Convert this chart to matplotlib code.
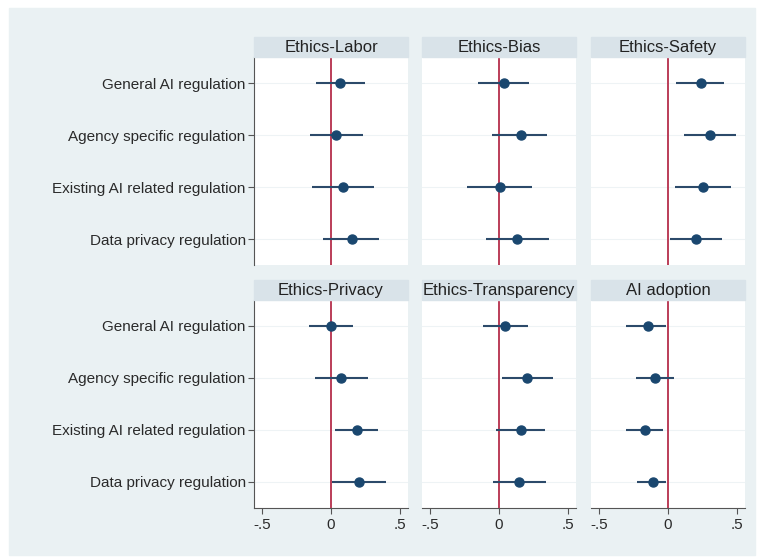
import numpy as np
import matplotlib.pyplot as plt
from matplotlib.patches import Rectangle

plt.rcParams['font.family'] = ['Liberation Sans', 'DejaVu Sans']

regs = ['General AI regulation', 'Agency specific regulation',
        'Existing AI related regulation', 'Data privacy regulation']
panels = ['Ethics-Labor', 'Ethics-Bias', 'Ethics-Safety',
          'Ethics-Privacy', 'Ethics-Transparency', 'AI adoption']

# point estimates and 95% CI per panel (order follows regs)
coef = [
    [0.068, 0.039, 0.087, 0.150],
    [0.034, 0.157, 0.005, 0.133],
    [0.239, 0.304, 0.258, 0.205],
    [-0.002, 0.072, 0.186, 0.200],
    [0.041, 0.205, 0.157, 0.143],
    [-0.147, -0.092, -0.164, -0.111],
]
lo = [
    [-0.110, -0.150, -0.140, -0.056],
    [-0.152, -0.050, -0.230, -0.095],
    [0.060, 0.116, 0.053, 0.017],
    [-0.160, -0.116, 0.029, 0.007],
    [-0.118, 0.024, -0.022, -0.046],
    [-0.302, -0.232, -0.309, -0.229],
]
hi = [
    [0.250, 0.230, 0.310, 0.350],
    [0.215, 0.350, 0.240, 0.365],
    [0.410, 0.495, 0.459, 0.396],
    [0.160, 0.268, 0.343, 0.400],
    [0.208, 0.396, 0.338, 0.340],
    [-0.014, 0.043, -0.034, -0.014],
]

W, H = 761, 557
fig = plt.figure(figsize=(W / 100, H / 100), dpi=100)
fig.patch.set_facecolor('white')
fig.patches.append(Rectangle((9 / W, 2 / H), 746 / W, 547 / H,
                             transform=fig.transFigure, color='#eaf1f3', zorder=-10))

lefts = [254, 422, 591]
tops = [57, 300]
aw, ah = 154, 208
navy = '#1a476f'
y = np.arange(1, 5)

for k in range(6):
    r, c = divmod(k, 3)
    ax = fig.add_axes([lefts[c] / W, (H - tops[r] - ah) / H, aw / W, ah / H])
    ax.set_facecolor('white')
    for yy in y:
        ax.axhline(yy, color='#eef3f5', lw=0.8, zorder=1)
    ax.axvline(0, color='#bb3d58', lw=1.4, zorder=2)
    ax.hlines(y, lo[k], hi[k], color='#2c4a6a', lw=1.5, zorder=3)
    ax.plot(coef[k], y, 'o', color=navy, ms=6.5, zorder=4)
    ax.set_xlim(-0.56, 0.56)
    ax.set_ylim(4.5, 0.5)
    for s in ['top', 'right']:
        ax.spines[s].set_visible(False)
    ax.spines['left'].set_visible(c == 0)
    ax.spines['bottom'].set_visible(r == 1)
    ax.spines['left'].set_color('#555555')
    ax.spines['bottom'].set_color('#555555')
    ax.set_yticks(y)
    if c == 0:
        ax.set_yticklabels(regs, fontsize=11, color='#2a2a2a')
        ax.tick_params(axis='y', length=4, color='#555555', pad=2)
    else:
        ax.tick_params(axis='y', left=False, labelleft=False)
    ax.set_xticks([-0.5, 0, 0.5])
    if r == 1:
        ax.set_xticklabels(['-.5', '0', '.5'], fontsize=11, color='#2a2a2a')
        ax.tick_params(axis='x', length=4, color='#555555', pad=3)
    else:
        ax.tick_params(axis='x', bottom=False, labelbottom=False)
    sh = 20 / ah
    ax.add_patch(Rectangle((0, 1), 1, sh, transform=ax.transAxes,
                           color='#d9e3e9', clip_on=False, zorder=5))
    ax.text(0.5, 1 + 5 / ah, panels[k], transform=ax.transAxes, ha='center',
            va='baseline', fontsize=12, color='#222222', zorder=6)

fig.savefig('out.png', dpi=100, facecolor=fig.get_facecolor())
